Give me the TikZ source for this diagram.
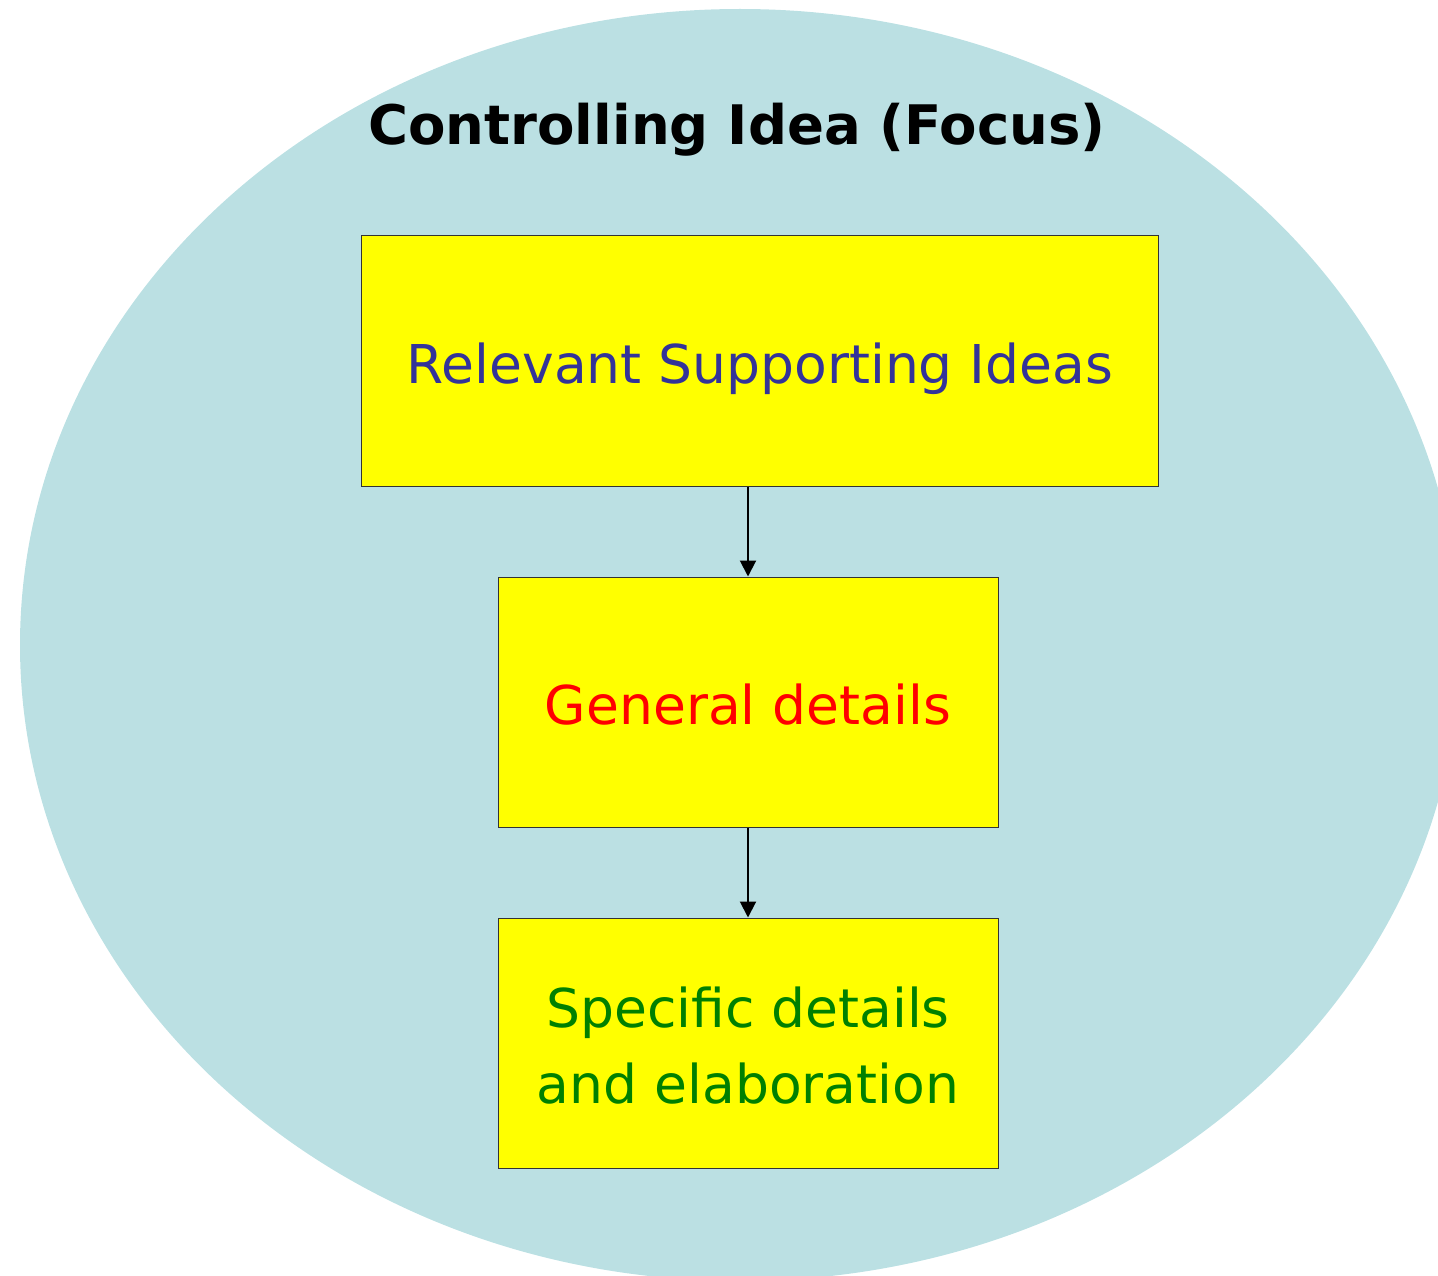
\documentclass[tikz,border=0pt]{standalone}
\usepackage{fontspec}
\setmainfont{DejaVu Sans}
\usetikzlibrary{arrows.meta}
\definecolor{bgteal}{HTML}{BBE0E3}
\definecolor{boxyellow}{HTML}{FFFF00}
\definecolor{txtblue}{HTML}{333399}
\definecolor{txtred}{HTML}{FF0000}
\definecolor{txtgreen}{HTML}{008000}
\tikzset{
  stepbox/.style={draw=black!80, line width=1pt, fill=boxyellow, inner sep=0pt, align=center,
    font=\fontsize{53.5}{77}\selectfont},
  flowarrow/.style={draw=black, line width=2pt, -{Triangle[length=16pt,width=16pt]}}
}
\begin{document}
\begin{tikzpicture}[x=1pt,y=-1pt]
\useasboundingbox (0,0) rectangle (1438,1276);
\begin{scope}
\clip (0,0) rectangle (1438,1276);
\fill[bgteal] (740,645) ellipse [x radius=720, y radius=636];
\end{scope}
\node[font=\bfseries\fontsize{54.5}{70}\selectfont, anchor=base] (title) at (737,145) {Controlling Idea (Focus)};
\node[stepbox, minimum width=797pt, minimum height=250pt] (rsi) at (759.5,361) {};
\node[font=\fontsize{53.5}{77}\selectfont, text=txtblue, anchor=base] (rsit) at (760,383) {Relevant Supporting Ideas};
\node[stepbox, minimum width=500pt, minimum height=250pt] (gd) at (748,702) {};
\node[font=\fontsize{53.5}{77}\selectfont, text=txtred, anchor=base] (gdt) at (748,724) {General details};
\node[stepbox, minimum width=500pt, minimum height=250pt] (sd) at (748,1043) {};
\node[font=\fontsize{53.5}{77}\selectfont, text=txtgreen, anchor=base] (sdt1) at (748,1027) {Specific details};
\node[font=\fontsize{53.5}{77}\selectfont, text=txtgreen, anchor=base] (sdt2) at (748,1103) {and elaboration};
\draw[flowarrow] (rsi.south -| gd.north) -- (gd.north);
\draw[flowarrow] (gd.south) -- (sd.north);
\end{tikzpicture}
\end{document}
